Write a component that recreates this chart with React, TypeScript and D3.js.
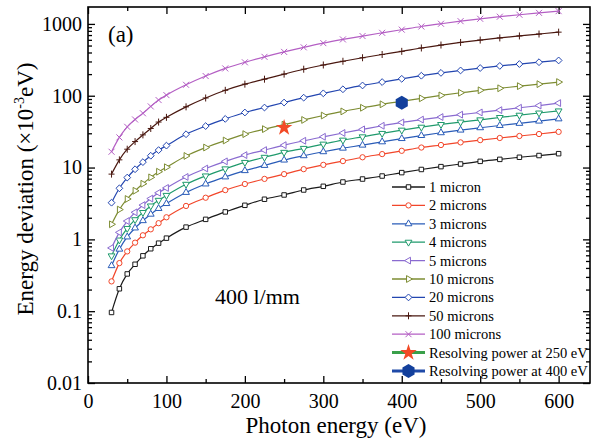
import React, { useEffect, useRef } from "react";
import * as d3 from "d3";

// photon energies (eV) where each curve was sampled
const photonEnergy = [
  30, 40, 50, 60, 70, 80, 90, 100, 125, 150, 175, 200, 225, 250, 275, 300, 325,
  350, 375, 400, 425, 450, 475, 500, 525, 550, 575, 600,
];

// energy deviation (x10^-3 eV) for each slit width
const micron1 = [
  0.096, 0.205, 0.33, 0.45, 0.59, 0.74, 0.885, 1.04, 1.48, 1.9, 2.41, 2.98,
  3.62, 4.15, 4.87, 5.48, 6.29, 6.92, 7.62, 8.5, 9.4, 10.3, 11.2, 12.2, 13.0,
  13.9, 14.7, 15.6,
];
const micron2 = [
  0.26, 0.467, 0.68, 0.9, 1.14, 1.38, 1.68, 2.03, 2.92, 3.8, 4.85, 5.9, 6.95,
  8.1, 9.5, 10.9, 12.3, 13.9, 15.4, 17.1, 19.0, 20.6, 22.4, 24.1, 25.8, 27.5,
  29.3, 31.4,
];
const micron3 = [
  0.43, 0.73, 1.08, 1.44, 1.82, 2.24, 2.69, 3.15, 4.5, 5.9, 7.4, 9.05, 10.7,
  12.7, 14.6, 16.6, 18.6, 20.5, 22.8, 25.3, 27.9, 30.5, 33.2, 35.8, 38.5, 41.2,
  44.3, 47.6,
];
const micron4 = [
  0.59, 0.98, 1.42, 1.88, 2.37, 2.92, 3.5, 4.1, 5.85, 7.65, 9.6, 11.8, 13.9,
  16.3, 18.5, 21.2, 24.1, 26.8, 29.9, 33.2, 36.5, 39.8, 43.0, 46.2, 49.8, 53.6,
  57.5, 61.5,
];
const micron5 = [
  0.76, 1.25, 1.8, 2.38, 3.0, 3.7, 4.45, 5.2, 7.4, 9.7, 12.2, 14.9, 17.5, 20.5,
  23.6, 26.8, 30.3, 34.0, 38.2, 42.5, 46.5, 50.5, 54.5, 58.5, 63, 68, 73, 79,
];
const micron10 = [
  1.62, 2.6, 3.65, 4.75, 5.95, 7.3, 8.75, 10.1, 14.5, 19, 23.8, 29.2, 34.3,
  39.5, 46, 53, 60.5, 68, 76, 83.5, 92, 101, 110, 119, 127, 136, 145, 155,
];
const micron20 = [
  3.24, 5.14, 7.25, 9.47, 11.9, 14.6, 17.5, 20.2, 29.1, 37.8, 47.6, 58.4, 68.5,
  80.4, 94, 108, 123, 139, 155, 172, 190, 208, 225, 243, 260, 276, 293, 310,
];
const micron50 = [
  8.1, 12.8, 18, 23, 28.5, 35, 43, 50, 70, 93, 119, 145, 170, 200, 234, 268,
  302, 338, 375, 415, 462, 508, 552, 596, 638, 680, 723, 768,
];
const micron100 = [
  16.6, 26.3, 36.9, 46.7, 57, 71, 87, 102, 142, 188, 240, 292, 348, 408, 472,
  540, 608, 678, 752, 832, 920, 1005, 1092, 1178, 1260, 1342, 1425, 1506,
];

const seriesLabels = [
  "1 micron",
  "2 microns",
  "3 microns",
  "4 microns",
  "5 microns",
  "10 microns",
  "20 microns",
  "50 microns",
  "100 microns",
];
const seriesValues = [
  micron1, micron2, micron3, micron4, micron5, micron10, micron20, micron50, micron100,
];
const seriesColors = [
  "#1a1a1a", "#f2462a", "#2a5cb8", "#1f9a6c", "#8a6bd0",
  "#7d8c32", "#2346b0", "#4a1810", "#b45fc4",
];
const seriesMarkers = [
  "square", "circle", "triUp", "triDown", "triLeft",
  "triRight", "diamond", "plus", "cross",
];

// resolving power points
const resolvingLabels = ["Resolving power at 250 eV", "Resolving power at 400 eV"];
const resolvingEnergy = [250, 400];
const resolvingValue = [36, 80];

const xTicks = [0, 100, 200, 300, 400, 500, 600];
const yTicks = [0.01, 0.1, 1, 10, 100, 1000];

const FONT = "'Liberation Serif', 'Times New Roman', serif";

const markerPath = (kind) => {
  switch (kind) {
    case "square":
      return d3.symbol(d3.symbolSquare, 20)();
    case "circle":
      return d3.symbol(d3.symbolCircle, 22)();
    case "diamond":
      return "M0,-3.4L3.4,0L0,3.4L-3.4,0Z";
    case "plus":
      return "M-3,0H3M0,-3.5V3.5";
    case "cross":
      return "M-3,-3L3,3M-3,3L3,-3";
    default:
      return d3.symbol(d3.symbolTriangle, 20)();
  }
};
const markerRotate = { triUp: 0, triDown: 180, triLeft: -90, triRight: 90 };

const hexagon = (r) =>
  d3.range(6)
    .map((i) => {
      const a = ((-90 + i * 60) * Math.PI) / 180;
      return `${i ? "L" : "M"}${(r * Math.cos(a)).toFixed(2)},${(r * Math.sin(a)).toFixed(2)}`;
    })
    .join("") + "Z";

const drawMarker = (g, kind, color, cx, cy) => {
  const p = g
    .append("path")
    .attr("d", markerPath(kind))
    .attr("transform", `translate(${cx},${cy}) rotate(${markerRotate[kind] || 0})`)
    .attr("stroke", color)
    .attr("stroke-width", 1);
  if (kind === "plus" || kind === "cross") p.attr("fill", "none");
  else p.attr("fill", "#fff");
};

const App = () => {
  const svgRef = useRef(null);

  useEffect(() => {
    const svg = d3.select(svgRef.current);
    svg.selectAll("*").remove();

    const left = 88, right = 590, top = 7, bottom = 383;

    const x = d3.scaleLinear().domain([0, 640]).range([left, right]);
    const y = d3.scaleLog().domain([0.01, 1720]).range([bottom, top]);

    svg.append("rect").attr("width", 597).attr("height", 444).attr("fill", "#fff");

    // minor log ticks
    const yMinor = [];
    [0.01, 0.1, 1, 10, 100, 1000].forEach((d) => {
      for (let k = 2; k <= 9; k++) if (d * k < 1720) yMinor.push(d * k);
    });
    const xMinor = [50, 150, 250, 350, 450, 550];

    const styleAxis = (g) => {
      g.select(".domain").remove();
      g.selectAll("line").attr("stroke", "#000").attr("stroke-width", 1.3);
      g.selectAll("text")
        .attr("font-family", FONT)
        .attr("font-size", 20)
        .attr("fill", "#000");
    };

    svg.append("g").attr("transform", `translate(0,${bottom})`)
      .call(d3.axisBottom(x).tickValues(xTicks).tickSize(-7).tickSizeOuter(0).tickPadding(11).tickFormat(d3.format("d")))
      .call(styleAxis);
    svg.append("g").attr("transform", `translate(0,${bottom})`)
      .call(d3.axisBottom(x).tickValues(xMinor).tickSize(-4).tickSizeOuter(0).tickFormat(() => ""))
      .call(styleAxis);
    svg.append("g").attr("transform", `translate(0,${top})`)
      .call(d3.axisTop(x).tickValues(xTicks).tickSize(-7).tickSizeOuter(0).tickFormat(() => ""))
      .call(styleAxis);
    svg.append("g").attr("transform", `translate(0,${top})`)
      .call(d3.axisTop(x).tickValues(xMinor).tickSize(-4).tickSizeOuter(0).tickFormat(() => ""))
      .call(styleAxis);

    svg.append("g").attr("transform", `translate(${left},0)`)
      .call(d3.axisLeft(y).tickValues(yTicks).tickSize(-7).tickSizeOuter(0).tickPadding(6).tickFormat((d) => String(d)))
      .call(styleAxis);
    svg.append("g").attr("transform", `translate(${left},0)`)
      .call(d3.axisLeft(y).tickValues(yMinor).tickSize(-4).tickSizeOuter(0).tickFormat(() => ""))
      .call(styleAxis);
    svg.append("g").attr("transform", `translate(${right},0)`)
      .call(d3.axisRight(y).tickValues(yTicks).tickSize(-7).tickSizeOuter(0).tickFormat(() => ""))
      .call(styleAxis);
    svg.append("g").attr("transform", `translate(${right},0)`)
      .call(d3.axisRight(y).tickValues(yMinor).tickSize(-4).tickSizeOuter(0).tickFormat(() => ""))
      .call(styleAxis);

    // frame
    svg.append("rect")
      .attr("x", left).attr("y", top)
      .attr("width", right - left).attr("height", bottom - top)
      .attr("fill", "none").attr("stroke", "#000").attr("stroke-width", 1.6);

    // curves
    const line = d3.line().x((d) => x(d[0])).y((d) => y(d[1])).curve(d3.curveMonotoneX);
    seriesValues.forEach((vals, i) => {
      const pts = photonEnergy.map((e, j) => [e, vals[j]]);
      const g = svg.append("g");
      g.append("path")
        .attr("d", line(pts))
        .attr("fill", "none")
        .attr("stroke", seriesColors[i])
        .attr("stroke-width", 1.2);
      pts.forEach((p) => drawMarker(g, seriesMarkers[i], seriesColors[i], x(p[0]), y(p[1])));
    });

    // resolving power points
    svg.append("path")
      .attr("d", d3.symbol(d3.symbolStar, 85)())
      .attr("transform", `translate(${x(resolvingEnergy[0])},${y(resolvingValue[0])})`)
      .attr("fill", "#f24a26");
    svg.append("path")
      .attr("d", hexagon(7))
      .attr("transform", `translate(${x(resolvingEnergy[1])},${y(resolvingValue[1])})`)
      .attr("fill", "#13409c");

    // texts
    svg.append("text").attr("x", 108).attr("y", 42)
      .attr("font-family", FONT).attr("font-size", 23).text("(a)");
    svg.append("text").attr("x", 215).attr("y", 304)
      .attr("font-family", FONT).attr("font-size", 22).text("400 l/mm");

    svg.append("text")
      .attr("x", (left + right) / 2 - 3).attr("y", 433)
      .attr("text-anchor", "middle")
      .attr("font-family", FONT).attr("font-size", 23)
      .text("Photon energy (eV)");

    const yTitle = svg.append("text")
      .attr("transform", "translate(33,189) rotate(-90)")
      .attr("text-anchor", "middle")
      .attr("font-family", FONT).attr("font-size", 23);
    yTitle.append("tspan").text("Energy deviation (×10");
    yTitle.append("tspan").attr("dy", -9).attr("font-size", 14).text("-3");
    yTitle.append("tspan").attr("dy", 9).text("eV)");

    // legend
    const legend = svg.append("g").attr("transform", "translate(392,187)");
    const rowH = 18.4;
    seriesLabels.forEach((lab, i) => {
      const row = legend.append("g").attr("transform", `translate(0,${i * rowH})`);
      row.append("line").attr("x1", 0).attr("x2", 33)
        .attr("stroke", seriesColors[i]).attr("stroke-width", 1.3);
      drawMarker(row, seriesMarkers[i], seriesColors[i], 16.5, 0);
      row.append("text").attr("x", 37).attr("y", 5)
        .attr("font-family", FONT).attr("font-size", 14.5).text(lab);
    });
    resolvingLabels.forEach((lab, k) => {
      const row = legend.append("g")
        .attr("transform", `translate(0,${(seriesLabels.length + k) * rowH})`);
      row.append("line").attr("x1", 0).attr("x2", 33)
        .attr("stroke", k === 0 ? "#3aa04a" : "#1f4aa8").attr("stroke-width", 3);
      if (k === 0) {
        row.append("path").attr("d", d3.symbol(d3.symbolStar, 85)())
          .attr("transform", "translate(16.5,0)").attr("fill", "#f24a26");
      } else {
        row.append("path").attr("d", hexagon(7))
          .attr("transform", "translate(16.5,0)").attr("fill", "#13409c");
      }
      row.append("text").attr("x", 37).attr("y", 5)
        .attr("font-family", FONT).attr("font-size", 14.5).text(lab);
    });
  }, []);

  return (
    <svg
      ref={svgRef}
      width={597}
      height={444}
      style={{ position: "absolute", left: 0, top: 0 }}
    />
  );
};

export default App;
